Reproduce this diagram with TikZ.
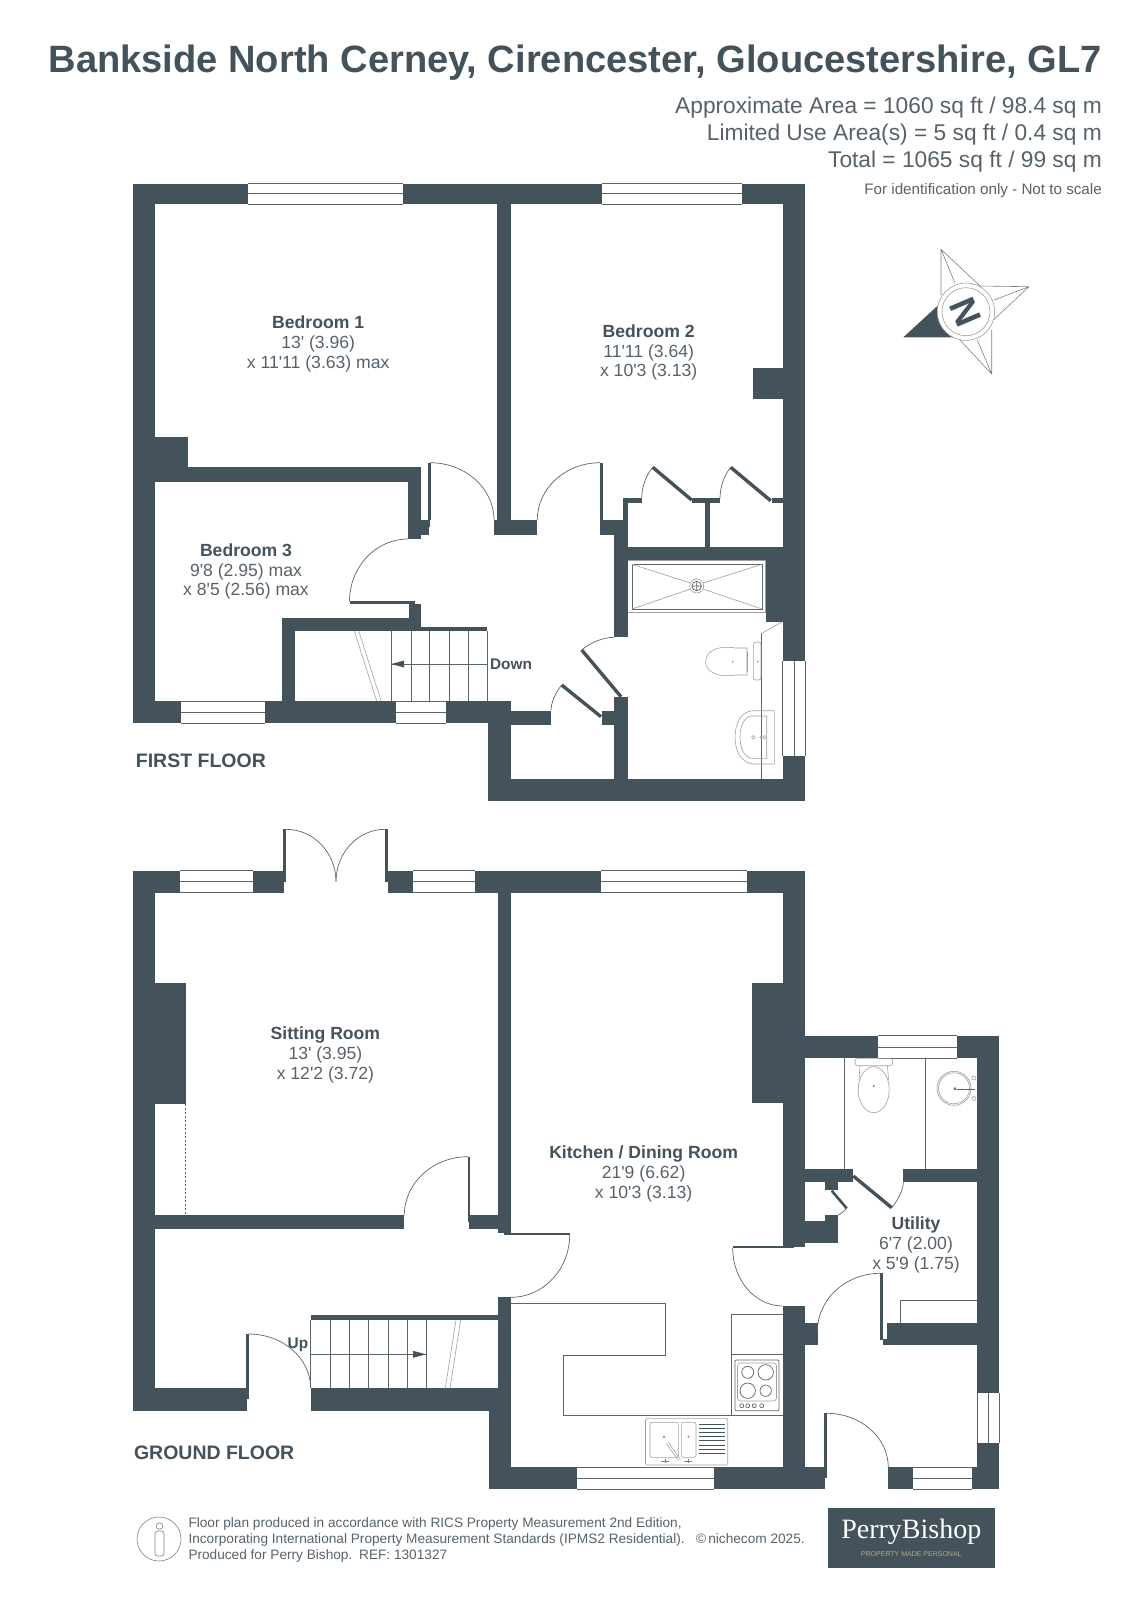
\documentclass[tikz,border=0pt]{standalone}
\usepackage{fontspec}
\usetikzlibrary{calc,arrows.meta}
\setmainfont{Liberation Sans}
\newfontfamily\libsans{Liberation Sans}
\newfontfamily\logoserif{Liberation Serif}
\definecolor{wallc}{HTML}{44525C}
\definecolor{greyt}{HTML}{56626A}
\definecolor{linec}{HTML}{5A656C}
\definecolor{tan}{HTML}{B8A88A}
\newcommand\fsz[2]{\fontsize{#1}{#2}\selectfont}
\newcommand\wallbox[2]{\fill[wallc] (#1) rectangle (#2);}
% horizontal / vertical window: white pane with edge lines and a mid line
\newcommand\winH[4]{\fill[white] (#1,#3) rectangle (#2,#4);
  \draw[winln] (#1,#3) -- (#2,#3) (#1,#4) -- (#2,#4) (#1,{(#3+#4)/2}) -- (#2,{(#3+#4)/2});}
\newcommand\winV[4]{\fill[white] (#1,#3) rectangle (#2,#4);
  \draw[winln] (#1,#3) -- (#1,#4) (#2,#3) -- (#2,#4) ({(#1+#2)/2},#3) -- ({(#1+#2)/2},#4);}
\newcommand\doorarc[4][.5523]{\draw[thinln] (#2) .. controls ($(#2)!#1!(#3)$) and ($(#4)!#1!(#3)$) .. (#4);}
\newcommand\rmhead[1]{{\libsans\bfseries\fsz{17.6}{19.8}\color{wallc}#1}}
\tikzset{
  winln/.style={draw=linec,line width=.8pt},
  thinln/.style={draw=linec,line width=.7pt},
  fixture/.style={draw=gray!75,line width=.6pt},
  leafln/.style={draw=wallc,line width=3.4pt},
  rmlabel/.style={font=\libsans\fsz{17.6}{19.8},text=greyt,align=center,inner sep=0pt},
  floorlbl/.style={font=\libsans\bfseries\fsz{19.5}{22},text=wallc,anchor=base west,inner sep=0pt},
  stairlbl/.style={font=\libsans\bfseries\fsz{15.4}{16},text=wallc,inner sep=0pt},
  arealbl/.style={font=\libsans\fsz{22.74}{24},text=greyt,anchor=base east,inner sep=0pt},
  footlbl/.style={font=\libsans\fsz{13.65}{15},text=greyt,anchor=base west,inner sep=0pt},
}
\begin{document}
\begin{tikzpicture}[x=1pt,y=-1pt]
\useasboundingbox (0,0) rectangle (1131,1599);

% ---------- headings
\node[font=\libsans\bfseries\fsz{38.08}{40},text=wallc,anchor=base east,inner sep=0pt] (title) at (1102,72) {Bankside North Cerney, Cirencester, Gloucestershire, GL7};
\node[arealbl] (area1) at (1102,113) {Approximate Area = 1060 sq ft / 98.4 sq m};
\node[arealbl] (area2) at (1102,140) {Limited Use Area(s) = 5 sq ft / 0.4 sq m};
\node[arealbl] (area3) at (1102,167) {Total = 1065 sq ft / 99 sq m};
\node[font=\libsans\fsz{15.2}{16},text=greyt,anchor=base east,inner sep=0pt] (idonly) at (1102,194) {For identification only - Not to scale};

% ---------- compass
\fill[wallc] (903.3,337.3) -- (939.5,304) -- (960,337.3) -- cycle;
\draw[thinln,line width=.6pt,draw=gray]
  (941,249.3) -- (941,295) (941,249.3) -- (980,286) (941,249.3) -- (955,283.3)
  (1029,286.7) -- (980,286) (1029,286.7) -- (993.3,320) (1029,286.7) -- (994,300)
  (991.7,374) -- (991.7,330) (991.7,374) -- (960,340) (991.7,374) -- (977.3,340);
\fill[white] (966,311.7) circle (28.7);
\draw[fixture] (966,311.7) circle (28.7) (966,311.7) circle (24);
\node[font=\libsans\bfseries\fsz{37}{37},text=wallc,rotate=113,inner sep=0pt] (north) at (966,311.7) {N};

% ---------- FIRST FLOOR walls
\wallbox{132.5,183.5}{805.3,204}
\wallbox{132.5,183.5}{154.8,723}
\wallbox{782.7,183.5}{805.3,801.3}
\wallbox{752.8,368}{782.7,399}
\wallbox{497.3,204}{511,520}
\wallbox{494,520}{537.3,534.7}
\wallbox{154.8,436.6}{188.3,481.7}
\wallbox{188.3,467.3}{421.3,481.7}
\wallbox{408,481.7}{421.3,539}
\wallbox{421.3,520}{430.3,527.3}
\wallbox{421.3,527.3}{429,534.7}
\wallbox{428,462.7}{430.5,520}
\wallbox{349.5,601.3}{414.6,604}
\wallbox{408.8,604}{421.3,626.7}
\wallbox{281.6,617.7}{421.3,631.3}
\wallbox{421.3,626.7}{487,631.3}
\wallbox{281.6,617.7}{295,701}
\wallbox{132.5,701}{510.6,723}
\wallbox{488.3,701}{511,801.3}
\wallbox{511,710.7}{551,725}
\wallbox{602.3,710.7}{614.3,725}
\wallbox{614.3,697}{627.7,801.3}
\wallbox{488.3,779.3}{805.3,801.3}
\wallbox{614.3,534}{627.7,637.3}
\wallbox{600,520}{627.7,534.7}
\wallbox{599.7,462.7}{603,520}
\wallbox{622.7,498.3}{627.7,520}
\wallbox{622.7,498.3}{641.7,502.7}
\wallbox{691.7,498.3}{720,502.7}
\wallbox{705,502.7}{710,546.7}
\wallbox{771.7,498.3}{782.7,502.7}
\wallbox{627.7,546.7}{782.7,560}
\wallbox{765.7,560}{782.7,621.7}
% door leaves, first floor
\draw[leafln] (561.7,685) -- (601,716.7);
\draw[leafln] (581.7,650) -- (621,696.7);
\draw[leafln] (652.7,467.3) -- (691.7,500);
\draw[leafln] (730.7,467.3) -- (770.7,500.7);
% door swings, first floor
\doorarc{430,462.7}{494,462.7}{494,520}
\doorarc{600,462.7}{537.3,462.7}{537.3,520}
\doorarc{349.5,601.3}{349.5,539}{408,539}
\doorarc[.62]{652.7,467.3}{641.7,480.4}{641.7,498.3}
\doorarc[.62]{730.7,467.3}{720,480}{720,498.3}
\doorarc[.62]{581.7,650}{596.8,637.3}{614.3,637.3}
\doorarc[.62]{561.7,685}{551,698.3}{551,710.7}
% windows, first floor
\winH{248}{403}{183.5}{204}
\winH{602}{741.6}{183.5}{204}
\winH{181}{264.6}{701}{723}
\winH{396}{446}{701}{723}
\winV{782.7}{805.3}{661}{756}
% stairs, first floor
\foreach \tx in {391.4,411,429.8,449,468,487} {\draw[thinln] (\tx,631.3) -- (\tx,701);}
\draw[thinln] (391.4,664) -- (487,664);
\fill[wallc] (391.4,664) -- (404,660.5) -- (404,667.5) -- cycle;
\draw[fixture] (354.4,631.3) -- (376.7,701) (358.8,631.3) -- (381.2,701);
% bathroom fittings, first floor
\fill[white] (627.7,560) rectangle (765.7,612.7);
\draw[fixture] (627.7,560) -- (765.7,560) (765.7,560) -- (765.7,612.7) -- (627.7,612.7);
\draw[thinln] (632,564.3) rectangle (762,609);
\draw[fixture] (632,564.3) -- (690.5,583) (762,564.3) -- (703,583) (632,609) -- (690.5,589) (762,609) -- (703,589);
\draw[fixture] (696.7,586) circle (7);
\draw[thinln] (696.7,586) circle (4.7) (692,586) -- (701.4,586) (696.7,581.3) -- (696.7,590.7);
\draw[thinln] (761.7,633.3) -- (761.7,779.3);
\draw[fixture] (761.7,633.3) -- (782.7,621.7);
\draw[fixture] (747,648) -- (735,648) .. controls (718,645) and (705.7,651) .. (705.7,661.7) .. controls (705.7,672) and (718,678) .. (735,675) -- (747,675) -- cycle;
\draw[fixture] (747,652) -- (747,672);
\draw[fixture,rounded corners=2.5pt] (753.3,642) -- (753.3,680) -- (761,680) -- (761,642) -- cycle;
\fill[gray] (732.7,661.7) circle (.9) (757.7,661.7) circle (.9);
\draw[fixture] (774.3,710.7) -- (753.3,710.7) .. controls (742,711) and (735,722) .. (735,737) .. controls (735,752) and (742,763) .. (753.3,764) -- (774.3,764) -- cycle;
\draw[fixture] (766.7,716) -- (751.7,716) .. controls (744,717) and (740,726) .. (740,737) .. controls (740,748) and (744,757) .. (751.7,758.3) -- (766.7,758.3) -- cycle;
\draw[fixture] (753.3,737.3) circle (1.8) (764.7,737.3) circle (1.8) (761,737.3) circle (1.2);

% ---------- GROUND FLOOR walls
\wallbox{132.6,870.7}{284.3,892.7}
\wallbox{387.7,870.7}{805.3,892.7}
\wallbox{132.6,870.7}{154.8,1411}
\wallbox{155,983.3}{185.6,1103.6}
\wallbox{283.3,829.3}{286,881.7}
\wallbox{385,829.3}{387.7,881.7}
\wallbox{154.8,1215.3}{404.3,1228.7}
\wallbox{467.5,1156.7}{469.8,1222}
\wallbox{469,1215.3}{498,1228.7}
\wallbox{498,892.7}{511,1232.7}
\wallbox{504,1232.7}{569.7,1234.7}
\wallbox{498,1297.3}{511,1411}
\wallbox{310.6,1314.7}{498,1320}
\wallbox{310.6,1388.3}{498,1411}
\wallbox{132.6,1388.3}{247,1411}
\wallbox{245.5,1334}{248.6,1399}
\wallbox{488.5,1388.3}{511,1489}
\wallbox{488.5,1467.3}{782.7,1489}
\wallbox{782.7,870.7}{805,1246.7}
\wallbox{752,983.3}{782.7,1102.7}
\wallbox{732.7,1245.7}{794,1248}
\wallbox{782.7,1306}{805,1489}
\wallbox{805,1467.3}{825,1489}
\wallbox{824.3,1413.3}{826.7,1478}
\wallbox{888.3,1467.3}{999.3,1489}
\wallbox{805,1322.7}{818.3,1345}
\wallbox{805,1035.7}{999.3,1058.3}
\wallbox{977,1035.7}{999.3,1489}
\wallbox{805,1169}{852.7,1182.3}
\wallbox{903.3,1169}{977,1182.3}
\wallbox{825,1182.3}{838.3,1190}
\wallbox{825,1215}{838.3,1242.7}
\wallbox{805,1221}{838.3,1242.7}
\wallbox{880.3,1273.3}{883.3,1340}
\wallbox{887.3,1322.7}{977,1345}
\wallbox{882.7,1339.3}{887.3,1345}
\draw[leafln] (853.3,1176) -- (891.7,1207.7);
\draw[leafln,line width=2.6pt] (831.7,1190.7) -- (846.7,1208.3);
% door swings, ground floor
\doorarc{286,829.3}{336,829.3}{336,881.7}
\doorarc{385,829.3}{336,829.3}{336,881.7}
\doorarc{468,1156.7}{404.3,1156.7}{404.3,1215.3}
\doorarc{569.7,1234.7}{569.7,1297.3}{511,1297.3}
\doorarc{248.6,1334}{310.6,1334}{310.6,1388}
\doorarc{732.7,1248}{732.7,1306}{782.7,1306}
\doorarc{880.3,1273.3}{817.3,1273.3}{817.3,1331.7}
\doorarc{826.7,1413.3}{888.3,1413.3}{888.3,1467.3}
\doorarc[.62]{891.7,1207.7}{903.3,1193.6}{903.3,1182.3}
\doorarc[.62]{846.7,1208.3}{843,1212.5}{838.3,1215}
% windows, ground floor
\winH{180}{253.3}{870.7}{892.7}
\winH{413.3}{475}{870.7}{892.7}
\winH{600.8}{746.6}{870.7}{892.7}
\winH{576.6}{714}{1467.3}{1489}
\winH{913.3}{971.7}{1467.3}{1489}
\winH{878.3}{956.7}{1035.7}{1058.3}
\winV{977}{999.3}{1392.7}{1443.3}
% chimney dashed line
\draw[thinln,dash pattern=on 2pt off 2pt] (185.4,1103.6) -- (185.4,1215.3);
% stairs, ground floor
\foreach \tx in {310.6,330,349.6,368.8,388,407,426} {\draw[thinln] (\tx,1320) -- (\tx,1388.3);}
\draw[thinln] (310.6,1354.3) -- (426,1354.3);
\fill[wallc] (426,1354.3) -- (413,1350.8) -- (413,1357.8) -- cycle;
\draw[fixture] (445.3,1388.3) -- (456,1320) (450,1388.3) -- (460.6,1320);
% kitchen fittings
\draw[thinln] (511,1303.3) -- (665.4,1303.3) -- (665.4,1355.3) -- (563.5,1355.3) -- (563.5,1415.3) -- (731,1415.3);
\draw[thinln] (731,1314) -- (731,1415.7) (731,1314) -- (782.7,1314);
\draw[thinln] (731,1354.3) -- (782.7,1354.3) (731,1415.7) -- (782.7,1415.7);
\draw[thinln,rounded corners=1pt] (735,1360) rectangle (779,1410.7);
\draw[fixture,rounded corners=3pt] (737.5,1363) rectangle (776.5,1401);
\draw[thinln] (747.7,1372.3) circle (6) (765.7,1372.3) circle (7.7) (747.7,1390.7) circle (7.7) (765.7,1390.7) circle (5.7);
\draw[thinln] (741.7,1405.7) circle (2) (747.7,1405.7) circle (2) (754.3,1405.7) circle (2) (761.7,1405.7) circle (2);
\draw[fixture,rounded corners=1.5pt] (645.5,1418.3) rectangle (727.7,1465);
\draw[fixture,rounded corners=2pt] (650,1422.3) rectangle (678.4,1457.3);
\draw[fixture,rounded corners=2pt] (681.4,1422.3) rectangle (696,1457.3);
\foreach \dy in {1424,1428.2,1432.4,1436.6,1440.8,1445,1449.2,1453.4} {\draw[wallc,line width=1pt] (699,\dy) -- (725,\dy);}
\draw[fixture] (666.5,1443.5) -- (678.5,1460.5) (668.5,1442.5) -- (680.5,1459.5);
\fill[gray] (664,1436.7) circle (1.1) (688.4,1436.7) circle (1.1);
\draw[gray,line width=.7pt] (661,1461) -- (669,1461) (684,1461) -- (692,1461) (665,1459) -- (665,1463) (688,1459) -- (688,1463);
% utility and WC fittings
\draw[thinln] (844.3,1058.3) -- (844.3,1169) (925.3,1058.3) -- (925.3,1169);
\draw[thinln] (900.7,1322.7) -- (900.7,1300) -- (977,1300);
\draw[fixture,rounded corners=3pt] (855,1058.3) rectangle (892.7,1065.7);
\draw[fixture] (873.7,1089.7) ellipse (15.5 and 23);
\draw[fixture] (860,1066) -- (859,1080) (887.5,1066) -- (888.5,1080);
\fill[gray] (873.7,1086) circle (1.1);
\draw[fixture] (954,1088.3) circle (17) (954,1088.3) circle (15.5);
\draw[thinln] (957,1089) -- (975,1089);
\draw[thinln] (955,1088.7) circle (1.2);
\draw[fixture] (974,1078) circle (2) (974,1098.5) circle (2);

% ---------- room and floor labels
\node[rmlabel] (bed1) at (318.2,344) {\rmhead{Bedroom 1}\\13' (3.96)\\x 11'11 (3.63) max};
\node[rmlabel] (bed2) at (648.7,352.5) {\rmhead{Bedroom 2}\\11'11 (3.64)\\x 10'3 (3.13)};
\node[rmlabel] (bed3) at (246,571.5) {\rmhead{Bedroom 3}\\9'8 (2.95) max\\x 8'5 (2.56) max};
\node[rmlabel] (sit) at (325.4,1055) {\rmhead{Sitting Room}\\13' (3.95)\\x 12'2 (3.72)};
\node[rmlabel] (kit) at (643.6,1174) {\rmhead{Kitchen / Dining Room}\\21'9 (6.62)\\x 10'3 (3.13)};
\node[rmlabel] (util) at (916,1245) {\rmhead{Utility}\\6'7 (2.00)\\x 5'9 (1.75)};
\node[stairlbl] (down) at (511,664.5) {Down};
\node[stairlbl] (up) at (298,1345) {Up};
\node[floorlbl] (ff) at (135.7,767.5) {FIRST FLOOR};
\node[floorlbl] (gf) at (133.8,1459.5) {GROUND FLOOR};

% ---------- footer
\draw[fixture,draw=gray] (159,1539) circle (22);
\draw[fixture,draw=gray] (159.5,1526) circle (3.2);
\draw[fixture,draw=gray,rounded corners=2.5pt] (155,1531) rectangle (164,1556);
\node[footlbl] (f1) at (188.3,1527) {Floor plan produced in accordance with RICS Property Measurement 2nd Edition,};
\node[footlbl] (f2) at (188.3,1543.5) {Incorporating International Property Measurement Standards (IPMS2 Residential).};
\node[footlbl] (f3) at (188.3,1559.5) {Produced for Perry Bishop.\enspace REF: 1301327};
\node[footlbl] (f4) at (695.8,1543.5) {\char"00A9\,nichecom 2025.};
\fill[wallc] (827.8,1507.7) rectangle (994.9,1567.7);
\node[font=\logoserif\fsz{28}{30},text=white,inner sep=0pt] (logo) at (911.3,1532) {PerryBishop};
\node[font=\libsans\fsz{7}{8},text=tan,inner sep=0pt] (tag) at (911.3,1553.6) {PROPERTY MADE PERSONAL};
\end{tikzpicture}
\end{document}
